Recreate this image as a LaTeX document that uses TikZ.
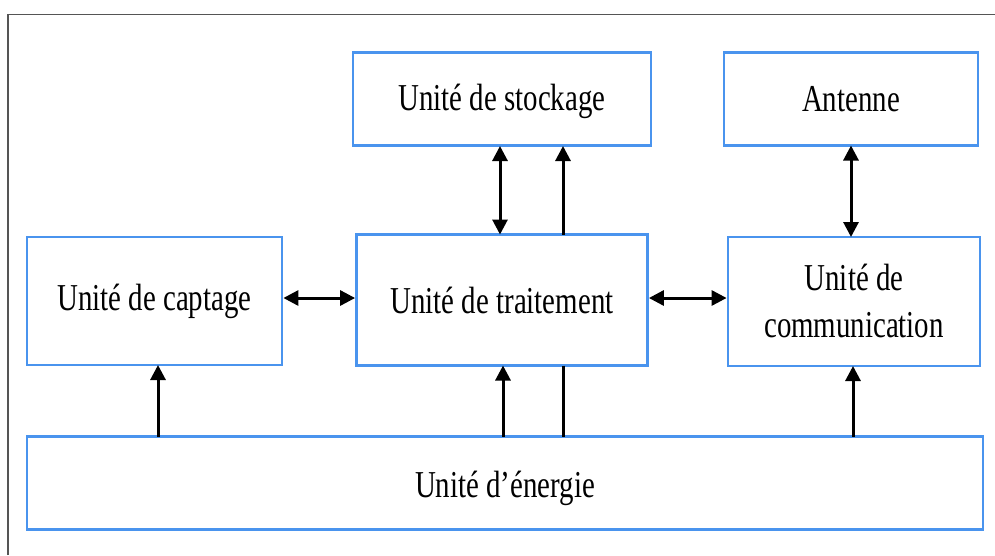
\documentclass[tikz,border=0pt]{standalone}
\usepackage{fontspec}
\setmainfont{Liberation Serif}
\newfontfamily\labelfont[FakeStretch=0.76]{Liberation Serif}
\usetikzlibrary{arrows.meta}
\definecolor{boxblue}{RGB}{74,148,238}
\definecolor{framegray}{RGB}{85,85,85}
% shift a label's ink down while keeping its size
\newcommand{\lowered}[2]{\raisebox{-#1}[\height][\depth]{#2}}
\begin{document}
\begin{tikzpicture}[x=1pt,y=-1pt,
  unitbox/.style={draw=boxblue,line width=2.8pt,fill=white,font=\labelfont\fontsize{38}{47}\selectfont,align=center,inner sep=0pt},
  link/.style={line width=3pt,black},
  tip/.style={-{Triangle[length=15pt,width=15pt]}},
  dtip/.style={{Triangle[length=15pt,width=15pt]}-{Triangle[length=15pt,width=15pt]}}]
  \useasboundingbox (0,0) rectangle (995,555);
  % page frame
  \draw[framegray,line width=1.5pt] (8,555) -- (8,14.5) -- (995,14.5);
  % units
  \node[unitbox,minimum width=298pt,minimum height=93pt] (stock) at (502,99) {\lowered{2pt}{Unité de stockage}};
  \node[unitbox,minimum width=254pt,minimum height=93pt] (ant) at (851,99) {Antenne};
  \node[unitbox,minimum width=255pt,minimum height=128pt] (capt) at (154.5,301) {Unité de captage};
  \node[unitbox,minimum width=291pt,minimum height=131pt] (trait) at (502,300) {Unité de traitement};
  \node[unitbox,minimum width=252pt,minimum height=129pt] (comm) at (854,301.5) {\lowered{3pt}{\begin{tabular}{@{}c@{}}Unité de\\communication\end{tabular}}};
  \node[unitbox,minimum width=956pt,minimum height=93pt] (ener) at (505,483) {\lowered{5pt}{Unité d’énergie}};
  % anchor points along the edges
  \coordinate (s1) at (500,146);
  \coordinate (s2) at (563,146);
  \coordinate (t1) at (500,234.5);
  \coordinate (t2) at (563,234.5);
  \coordinate (tb1) at (503,365.5);
  \coordinate (tb2) at (563,365.5);
  \coordinate (e1) at (158,436.5);
  \coordinate (e2) at (503,436.5);
  \coordinate (e3) at (563,436.5);
  \coordinate (e4) at (853,436.5);
  \coordinate (cb) at (158,365);
  \coordinate (mb) at (853,366);
  \coordinate (at) at (851,145.5);
  \coordinate (ct) at (851,237);
  % connectors
  \draw[link,dtip] (t1) -- (s1);
  \draw[link,tip] (t2) -- (s2);
  \draw[link,dtip] (capt.east |- 0,298) -- (trait.west |- 0,298);
  \draw[link,dtip] (trait.east |- 0,298) -- (comm.west |- 0,298);
  \draw[link,dtip] (at) -- (ct);
  \draw[link,tip] (e1) -- (cb);
  \draw[link,tip] (e2) -- (tb1);
  \draw[link] (tb2) -- (e3);
  \draw[link,tip] (e4) -- (mb);
\end{tikzpicture}
\end{document}
